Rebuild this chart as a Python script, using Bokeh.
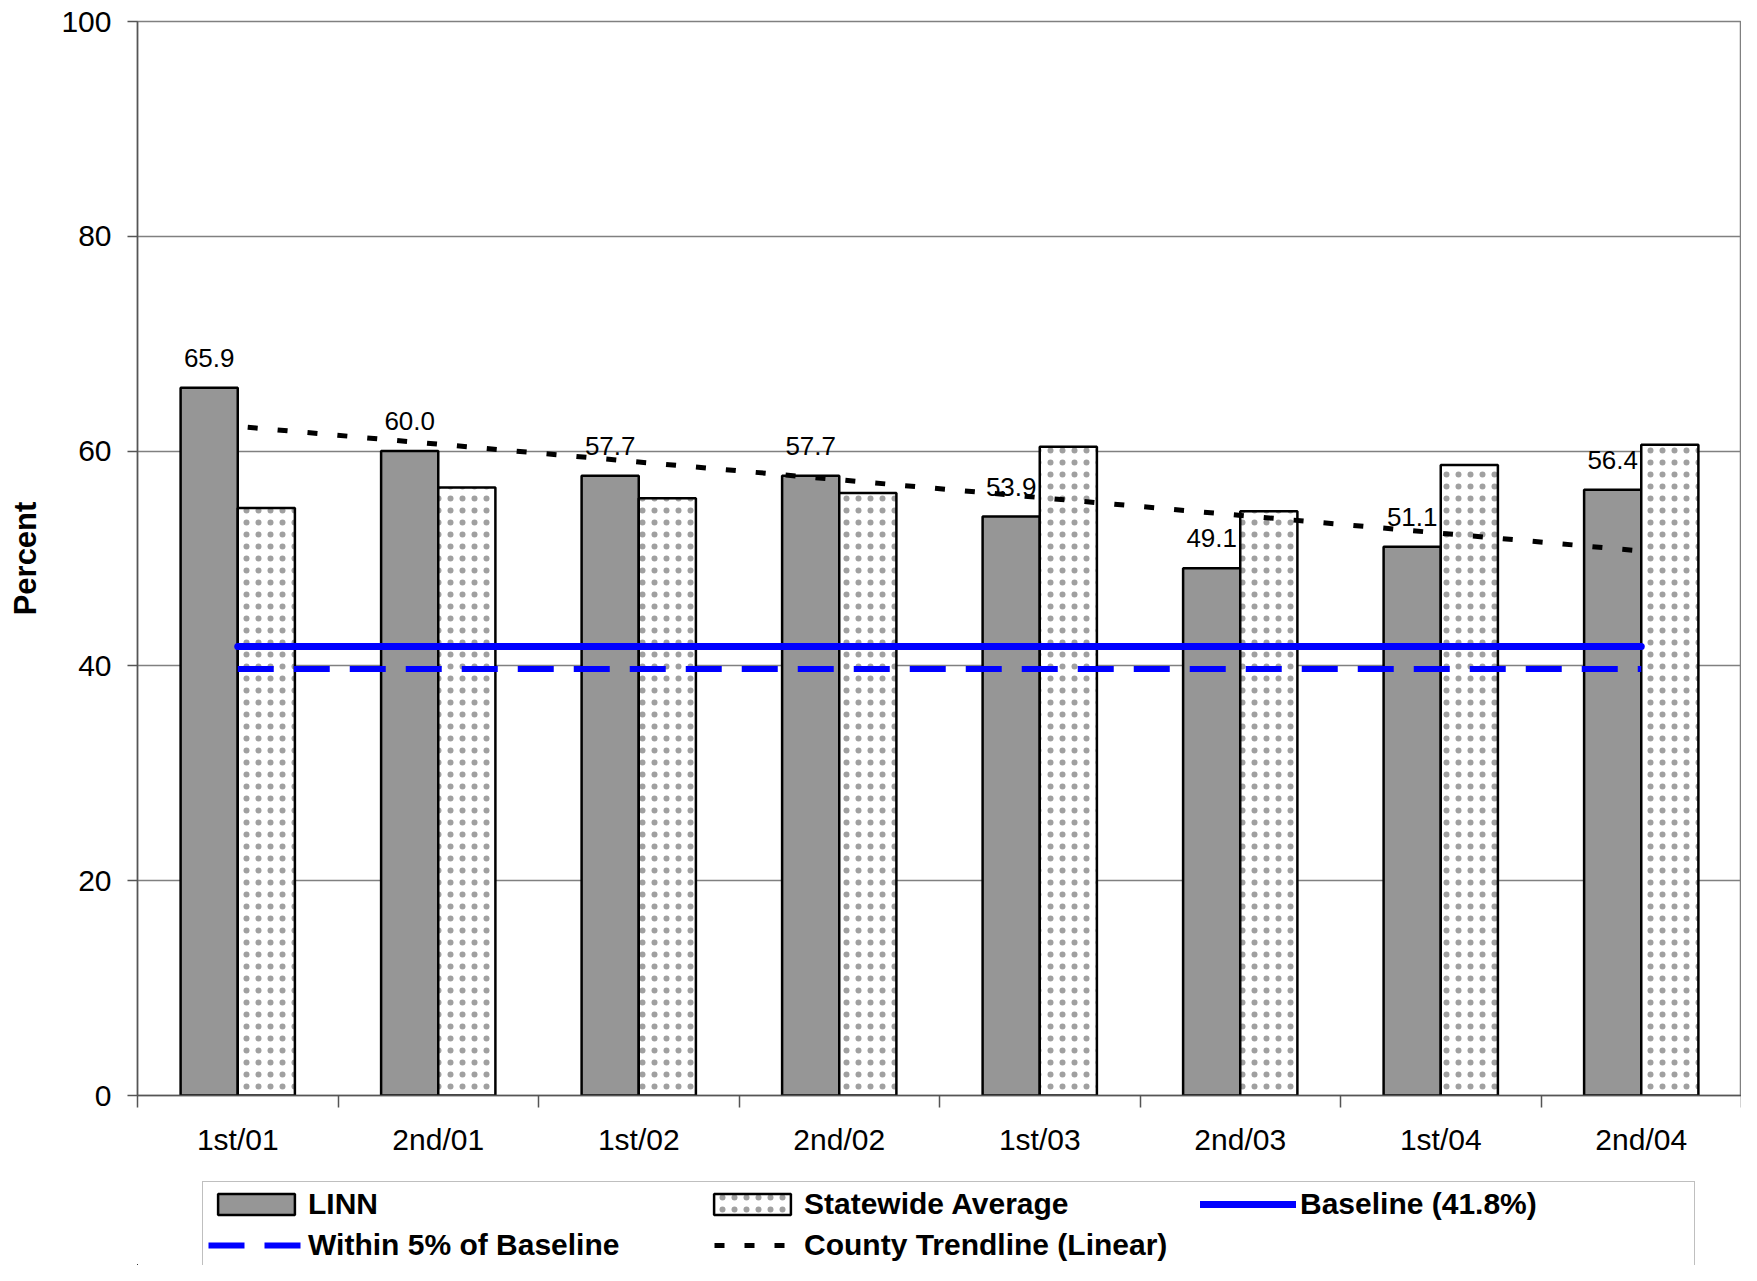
import numpy as np
from bokeh.plotting import figure
from bokeh.layouts import column
from bokeh.models import Range1d, FixedTicker, Legend, LegendItem, ColumnDataSource
from bokeh.core.properties import value
from bokeh.embed import file_html
from bokeh.resources import INLINE

# ---- data ----
periods = ["1st/01", "2nd/01", "1st/02", "2nd/02", "1st/03", "2nd/03", "1st/04", "2nd/04"]
linn = [65.9, 60.0, 57.7, 57.7, 53.9, 49.1, 51.1, 56.4]
statewide = [54.7, 56.6, 55.6, 56.1, 60.4, 54.4, 58.7, 60.6]
baseline_pct = 41.8
within5_pct = 39.7
trend_ends = [62.3, 50.7]
y_ticks = [0, 20, 40, 60, 80, 100]
legend_labels = ["LINN", "Statewide Average", "Baseline (41.8%)",
                 "Within 5% of Baseline", "County Trendline (Linear)"]

FONT = "Liberation Sans"
n = len(periods)
centers = np.arange(n) + 0.5
bar_w = 0.285
off = 0.1425

# shared styles
LINN_STYLE = dict(fill_color="#969696", line_color="black", line_width=2.5)
STATE_STYLE = dict(fill_color="white", line_color="black", line_width=2.5,
                   hatch_pattern="dot", hatch_scale=12, hatch_color="#a0a0a0", hatch_weight=0.5)
BASE_STYLE = dict(line_color="#0000FF", line_width=7, line_cap="round")
WITHIN_STYLE = dict(line_color="#0000FF", line_width=6, line_dash="36 20")
TREND_STYLE = dict(line_color="black", line_width=5, line_dash="10 20", line_dash_offset=20)

src = ColumnDataSource(dict(
    x_linn=centers - off, x_state=centers + off,
    linn=linn, state=statewide,
    lbl=[f"{v:.1f}" for v in linn],
))

W = 1741
p = figure(width=W, height=1175, x_range=Range1d(0, n), y_range=Range1d(0, 100),
           output_backend="svg", toolbar_location=None,
           min_border_left=137, min_border_top=21, min_border_right=0, min_border_bottom=80)
p.background_fill_color = "white"
p.border_fill_color = "white"
p.outline_line_color = "#808080"
p.outline_line_width = 1.5

p.vbar(x="x_linn", top="linn", width=bar_w, bottom=0, source=src, **LINN_STYLE)
p.vbar(x="x_state", top="state", width=bar_w, bottom=0, source=src, **STATE_STYLE)

p.text(x="x_linn", y="linn", text="lbl", source=src, text_align="center",
       text_baseline="alphabetic", y_offset=-30, text_font=value(FONT),
       text_font_size="26px", text_color="black")

p.line(x=[centers[0], centers[-1]], y=[baseline_pct, baseline_pct], **BASE_STYLE)
p.line(x=[centers[0], centers[-1]], y=[within5_pct, within5_pct], **WITHIN_STYLE)
p.line(x=[centers[0], centers[-1]], y=trend_ends, **TREND_STYLE)

# axes
p.xgrid.visible = False
p.ygrid.grid_line_color = "#808080"
p.ygrid.grid_line_width = 1.3
p.ygrid.ticker = FixedTicker(ticks=y_ticks)

ya = p.yaxis[0]
ya.ticker = FixedTicker(ticks=y_ticks)
ya.major_tick_out = 10
ya.major_tick_in = 0
ya.minor_tick_out = 0
ya.minor_tick_in = 0
ya.major_label_standoff = 16
ya.major_label_text_font = FONT
ya.major_label_text_font_size = "30px"
ya.major_label_text_color = "black"
ya.axis_line_color = "#555555"
ya.axis_line_width = 1.5
ya.major_tick_line_color = "#555555"
ya.major_tick_line_width = 1.5
ya.axis_label = "Percent"
ya.axis_label_text_font = FONT
ya.axis_label_text_font_size = "31px"
ya.axis_label_text_font_style = "bold"
ya.axis_label_text_color = "black"
ya.axis_label_standoff = 15

xa = p.xaxis[0]
xa.ticker = FixedTicker(ticks=list(centers), minor_ticks=list(range(n + 1)))
xa.major_label_overrides = {float(c): lab for c, lab in zip(centers, periods)}
xa.major_tick_out = 0
xa.major_tick_in = 0
xa.minor_tick_out = 12
xa.minor_tick_in = 0
xa.minor_tick_line_color = "#555555"
xa.minor_tick_line_width = 1.5
xa.axis_line_color = "#555555"
xa.axis_line_width = 1.5
xa.major_label_standoff = 15
xa.major_label_text_font = FONT
xa.major_label_text_font_size = "30px"
xa.major_label_text_color = "black"

# ---- legend strip (separate figure below the chart) ----
lf = figure(width=W, height=90, x_range=Range1d(0, 1), y_range=Range1d(0, 1),
            output_backend="svg", toolbar_location=None,
            x_axis_type=None, y_axis_type=None, min_border=0)
lf.outline_line_color = None
lf.background_fill_color = "white"
lf.border_fill_color = "white"
# legend-key renderers: their points lie outside the strip's visible range
key = ColumnDataSource(dict(x=[-10.0, -9.0], y=[-10.0, -10.0]))
g_linn = lf.vbar(x="x", top="y", width=0.1, bottom=-11, source=key, **LINN_STYLE)
g_state = lf.vbar(x="x", top="y", width=0.1, bottom=-11, source=key, **STATE_STYLE)
g_base = lf.line(x="x", y="y", source=key, **BASE_STYLE)
g_within = lf.line(x="x", y="y", source=key, **WITHIN_STYLE)
g_trend = lf.line(x="x", y="y", source=key, **TREND_STYLE)

legend = Legend(items=[LegendItem(label=lab, renderers=[r], index=0) for lab, r in
                       zip(legend_labels, [g_linn, g_state, g_base, g_within, g_trend])],
                location=(65, -3), orientation="horizontal", ncols=3)
legend.label_text_font = FONT
legend.label_text_font_size = "30px"
legend.label_text_font_style = "bold"
legend.label_text_color = "black"
legend.glyph_width = 96
legend.glyph_height = 26
legend.label_standoff = 4
legend.label_width = 389
legend.label_height = 34
legend.spacing = 7
legend.padding = 5
legend.margin = 0
legend.border_line_color = "#808080"
legend.border_line_width = 1.5
legend.background_fill_color = "white"
legend.background_fill_alpha = 1.0
lf.add_layout(legend)

layout = column(p, lf, spacing=0)
open("out.html", "w").write(file_html(layout, INLINE))
